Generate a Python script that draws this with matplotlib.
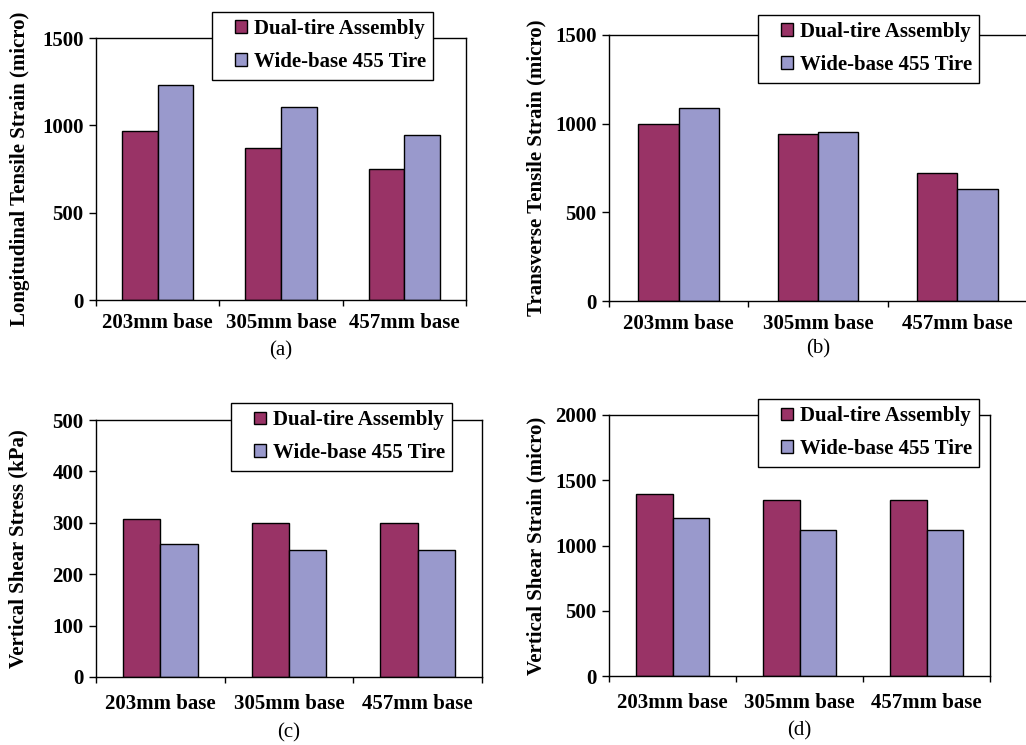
import matplotlib
matplotlib.use("Agg")
import matplotlib.pyplot as plt
import matplotlib.patches as mpatches
from matplotlib.container import BarContainer
from matplotlib.legend_handler import HandlerPatch, update_from_first_child
import numpy as np

plt.rcParams['font.family'] = ['Liberation Serif', 'DejaVu Serif']

categories = ["203mm base", "305mm base", "457mm base"]
series_names = ["Dual-tire Assembly", "Wide-base 455 Tire"]

# (a) longitudinal tensile strain
long_dual = [970, 870, 750]
long_wide = [1230, 1105, 945]
# (b) transverse tensile strain
trans_dual = [1000, 940, 720]
trans_wide = [1090, 955, 630]
# (c) vertical shear stress
vss_dual = [307, 300, 300]
vss_wide = [258, 248, 248]
# (d) vertical shear strain
vsn_dual = [1395, 1345, 1345]
vsn_wide = [1212, 1122, 1122]

DUAL = "#993366"
WIDE = "#9999CC"
FS = 15
W, H = 1026, 745


def square(legend, orig_handle, xdescent, ydescent, width, height, fontsize):
    # small square key sitting at the right end of the handle box
    s = 0.62 * fontsize
    return mpatches.Rectangle((width - s - xdescent, (height - s) / 2 - ydescent), s, s)


def panel(rect_px, dual, wide, ymax, ystep, ylabel, tag, legend_px,
          ylab_x, xlab_y, xpad):
    l, t, r, b = rect_px
    ax = fig.add_axes([l / W, 1 - b / H, (r - l) / W, (b - t) / H])
    x = np.arange(len(categories))
    bw = 0.29
    ax.bar(x - bw / 2, dual, bw, color=DUAL, edgecolor="black", linewidth=1,
           label=series_names[0])
    ax.bar(x + bw / 2, wide, bw, color=WIDE, edgecolor="black", linewidth=1,
           label=series_names[1])
    ax.set_xlim(-0.5, len(categories) - 0.5)
    ax.set_ylim(0, ymax)
    ax.set_yticks(np.arange(0, ymax + 1, ystep))
    ax.set_xticks(x)
    ax.set_xticklabels(categories)
    ax.set_xticks(np.arange(-0.5, len(categories), 1.0), minor=True)
    ax.tick_params(axis="x", which="major", length=0, pad=xpad)
    ax.tick_params(axis="x", which="minor", length=4.5, width=1, direction="out")
    ax.tick_params(axis="y", which="major", length=5, width=1, direction="out", pad=4)
    for lab in ax.get_xticklabels() + ax.get_yticklabels():
        lab.set_fontsize(FS)
        lab.set_fontweight("bold")
    for sp in ax.spines.values():
        sp.set_linewidth(1)
        sp.set_color("black")
    ax.set_ylabel(ylabel, fontsize=FS, fontweight="bold")
    ax.yaxis.set_label_coords(ylab_x, 0.5)
    ax.set_xlabel(tag, fontsize=FS)
    ax.xaxis.set_label_coords(0.5, xlab_y)
    lx, ly = legend_px
    leg = ax.legend(loc="upper left", bbox_to_anchor=(lx / W, 1 - ly / H),
                    bbox_transform=fig.transFigure, borderaxespad=0,
                    fancybox=False, shadow=False, framealpha=1,
                    prop={"size": FS, "weight": "bold"},
                    handlelength=1.35, handleheight=0.62, handletextpad=0.3,
                    borderpad=0.35, labelspacing=0.62,
                    handler_map={BarContainer: HandlerPatch(
                        patch_func=square, update_func=update_from_first_child)})
    leg.get_frame().set_edgecolor("black")
    leg.get_frame().set_linewidth(1)
    return ax


fig = plt.figure(figsize=(W / 100, H / 100), dpi=100)

panel((96, 38, 466, 300), long_dual, long_wide, 1500, 500,
      "Longitudinal Tensile Strain (micro)", "(a)", (212, 12), -0.178, -0.156, 9)
panel((609, 35, 1027, 301), trans_dual, trans_wide, 1500, 500,
      "Transverse Tensile Strain (micro)", "(b)", (758, 15), -0.15, -0.145, 9)
panel((96, 420, 482, 677), vss_dual, vss_wide, 500, 100,
      "Vertical Shear Stress (kPa)", "(c)", (231, 403), -0.174, -0.178, 12)
panel((609, 415, 990, 676), vsn_dual, vsn_wide, 2000, 500,
      "Vertical Shear Strain (micro)", "(d)", (758, 399), -0.163, -0.172, 12)

fig.savefig("out.png", dpi=100)
